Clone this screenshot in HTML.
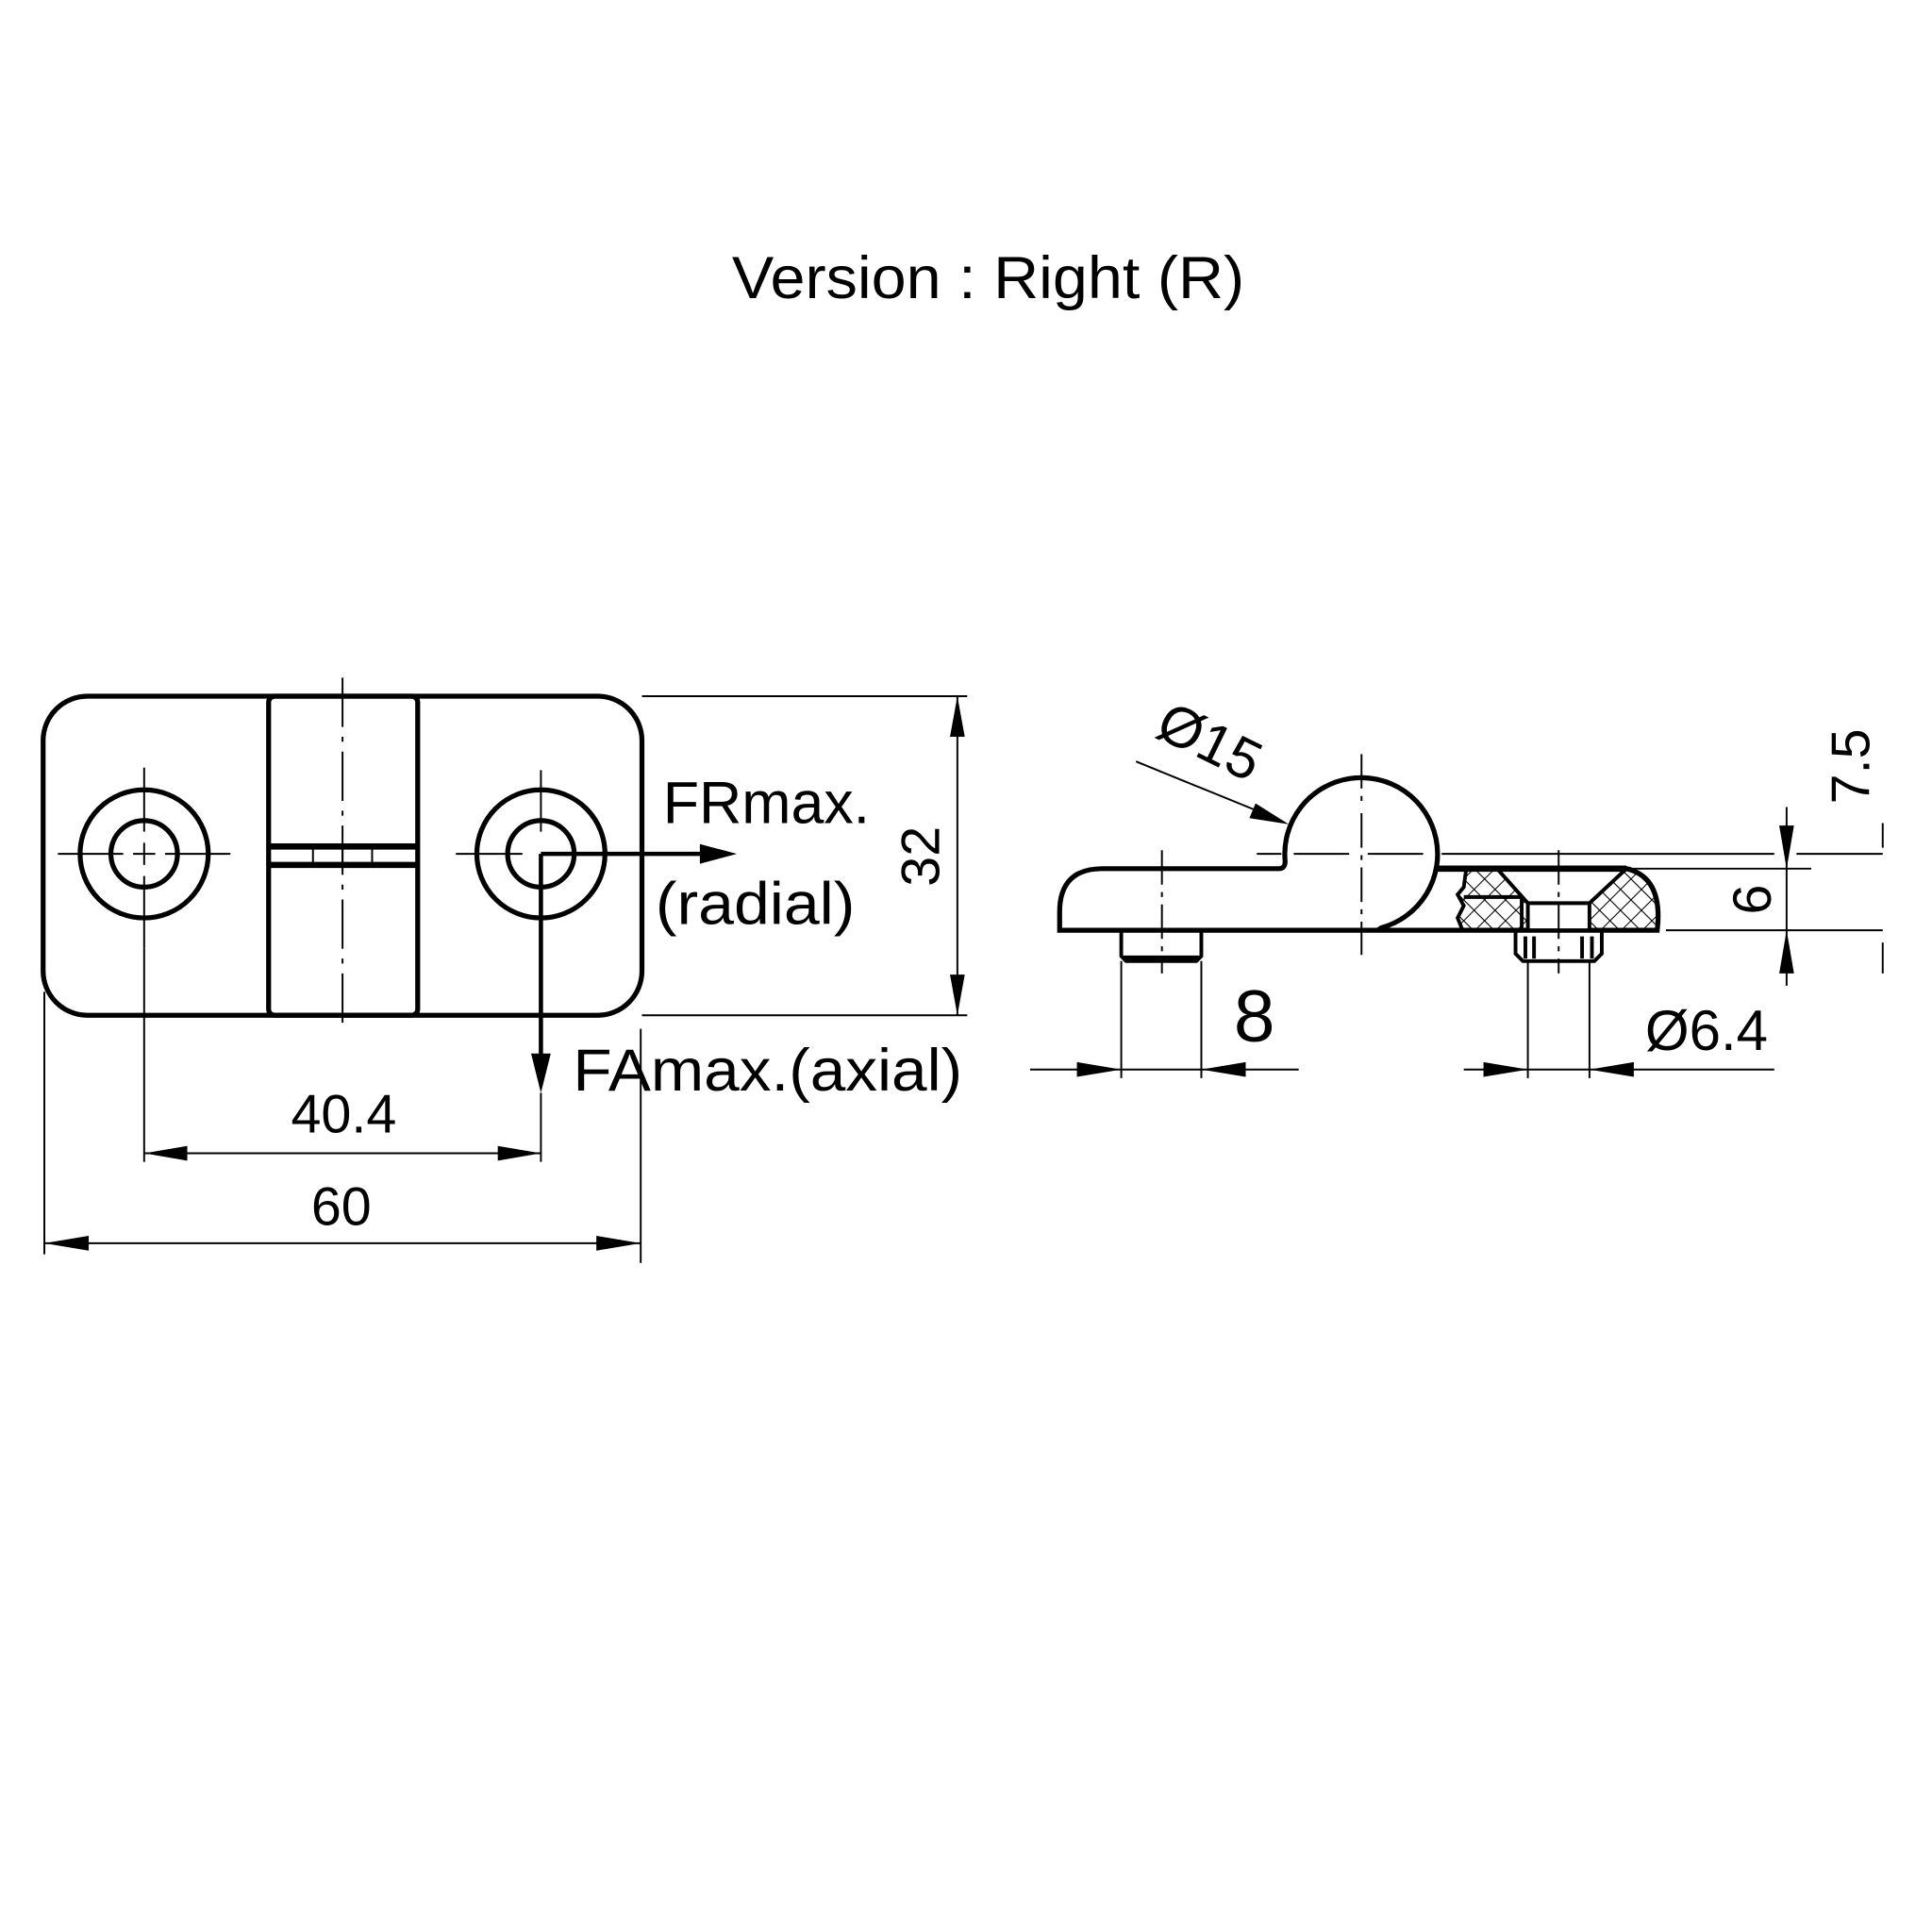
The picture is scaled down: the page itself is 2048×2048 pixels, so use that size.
<!DOCTYPE html>
<html><head><meta charset="utf-8"><style>html,body{margin:0;padding:0;background:#fff}svg{display:block}</style></head>
<body>
<svg width="2048" height="2048" viewBox="0 0 1568 1568" xmlns="http://www.w3.org/2000/svg" font-family="'Liberation Sans', sans-serif">
<defs>
<pattern id="h" width="12" height="12" patternUnits="userSpaceOnUse" patternTransform="rotate(45)">
<path d="M0 0H12M0 0V12" stroke="#000" stroke-width="1.6"/>
</pattern>
</defs>
<rect width="1568" height="1568" fill="#fff"/>
<text x="802" y="242" font-size="48" text-anchor="middle" textLength="416" lengthAdjust="spacingAndGlyphs">Version : Right (R)</text>

<g fill="none" stroke="#000">
<!-- left view -->
<rect x="35" y="565" width="486" height="259" rx="36" stroke-width="4"/>
<rect x="218" y="565" width="121" height="259" rx="5" stroke-width="4"/>
<line x1="218" y1="687" x2="339" y2="687" stroke-width="5"/>
<line x1="218" y1="702" x2="339" y2="702" stroke-width="5"/>
<path d="M254 687V702M278 687V702M302 687V702" stroke-width="1.5"/>
<line x1="278" y1="550" x2="278" y2="836" stroke-width="1.5" stroke-dasharray="40,8,4,8"/>
<circle cx="117" cy="693" r="52" stroke-width="4"/>
<circle cx="117" cy="693" r="27" stroke-width="4"/>
<circle cx="439" cy="693" r="52" stroke-width="4"/>
<circle cx="439" cy="693" r="27" stroke-width="4"/>
<path d="M47 693H100M108 693H126M134 693H187M117 623V675M117 684V702M117 711V770" stroke-width="1.5"/>
<path d="M370 693H424M439 625V675" stroke-width="1.5"/>
<line x1="439" y1="693" x2="572" y2="693" stroke-width="3.5"/>
<line x1="439" y1="693" x2="439" y2="860" stroke-width="3.5"/>
<!-- dims -->
<path d="M521 565H785M521 824H785M777 565V824" stroke-width="1.5"/>
<path d="M117 770V943M439 887V943M117 936H439" stroke-width="1.5"/>
<path d="M36 805V1018M520 835V1025M36 1009H520" stroke-width="1.5"/>

<!-- right view -->
<path d="M860 755 V740 Q860 705 895 705 H1038 Q1043 705 1043 699 A62 62 0 1 1 1121 753 L1118 755 Z" stroke-width="4"/>
<path d="M1118 755 H1345 Q1350 712 1320 705 H1166" stroke-width="4"/>
<path d="M1190 705 L1188 720 L1183 726 L1188 735 L1183 745 L1187 755 L1345 755 Q1350 712 1320 705 Z" fill="url(#h)" stroke="none"/>
<path d="M1215 705 L1240 733 V755 H1290 V733 L1320 705 Z" fill="#fff" stroke="#000" stroke-width="3"/>
<path d="M1240 733H1290" stroke-width="3"/>
<path d="M1188 728H1235V755" stroke-width="3" fill="none"/>
<path d="M1190 705 L1188 720 L1183 726 L1188 735 L1183 745 L1187 755" stroke-width="3"/>
<line x1="1165" y1="705" x2="1320" y2="705" stroke-width="5"/>
<path d="M910 755 V776 L914 780 H971 L975 776 V755" stroke-width="3"/>
<line x1="912" y1="778" x2="973" y2="778" stroke-width="5"/>
<path d="M1230 755 V774 L1236 780 H1294 L1300 774 V755 M1238 760V778M1245 760V778M1284 760V778M1292 760V778" stroke-width="3"/>
<!-- centerlines -->
<path d="M1020 693H1040M1050 693H1095M1110 693H1155M1170 693H1440M1458 693H1528" stroke-width="1.5"/>
<path d="M1105 612V650M1105 660V775M943 690V790M1265 690V790" stroke-width="1.5" stroke-dasharray="28,6,4,6"/>
<path d="M1190 705H1470M1352 755H1528" stroke-width="1.5"/>
<path d="M1450 655V800" stroke-width="1.5"/>
<path d="M1528 668V688M1528 765V790" stroke-width="1.5"/>
<!-- dim 8 / 6.4 -->
<path d="M910 780V875M975 780V875M836 868H1054" stroke-width="1.5"/>
<path d="M1240 780V875M1290 780V875M1188 868H1440" stroke-width="1.5"/>
<line x1="922" y1="618" x2="1030" y2="662" stroke-width="1.5"/>
</g>
<g fill="#000">
<path d="M598 693 L568 685 L568 701 Z"/>
<path d="M439 887 L431 855 L447 855 Z"/>
<path d="M777 565 L771 598 L783 598 Z"/><path d="M777 824 L771 791 L783 791 Z"/>
<path d="M117 936 L152 930 L152 942 Z"/><path d="M439 936 L404 930 L404 942 Z"/>
<path d="M36 1009 L72 1003 L72 1015 Z"/><path d="M520 1009 L484 1003 L484 1015 Z"/>
<path d="M910 868 L874 862 L874 874 Z"/><path d="M975 868 L1011 862 L1011 874 Z"/>
<path d="M1240 868 L1204 862 L1204 874 Z"/><path d="M1290 868 L1326 862 L1326 874 Z"/>
<path d="M1450 705 L1444 670 L1456 670 Z"/><path d="M1450 755 L1444 790 L1456 790 Z"/>
<path d="M1046 669 L1014 664 L1019 652 Z"/>
</g>
<g font-size="48">
<text x="538" y="668">FRmax.</text>
<text x="532" y="750" textLength="162" lengthAdjust="spacingAndGlyphs">(radial)</text>
<text x="465" y="885" textLength="316" lengthAdjust="spacingAndGlyphs">FAmax.(axial)</text>
</g>
<g font-size="44">
<text x="279" y="919" text-anchor="middle">40.4</text>
<text x="277" y="994" text-anchor="middle">60</text>
<text transform="translate(762,695) rotate(-90)" text-anchor="middle">32</text>
<text transform="translate(1437,730) rotate(-90)" text-anchor="middle">6</text>
<text transform="translate(1517,622) rotate(-90)" text-anchor="middle">7.5</text>
<text x="1385" y="852" text-anchor="middle" font-size="46">Ø6.4</text>
<text transform="translate(975,616) rotate(26)" text-anchor="middle" font-size="46">Ø15</text>
<text x="1018" y="845" text-anchor="middle" font-size="60">8</text>
</g>
</svg>
</body></html>
